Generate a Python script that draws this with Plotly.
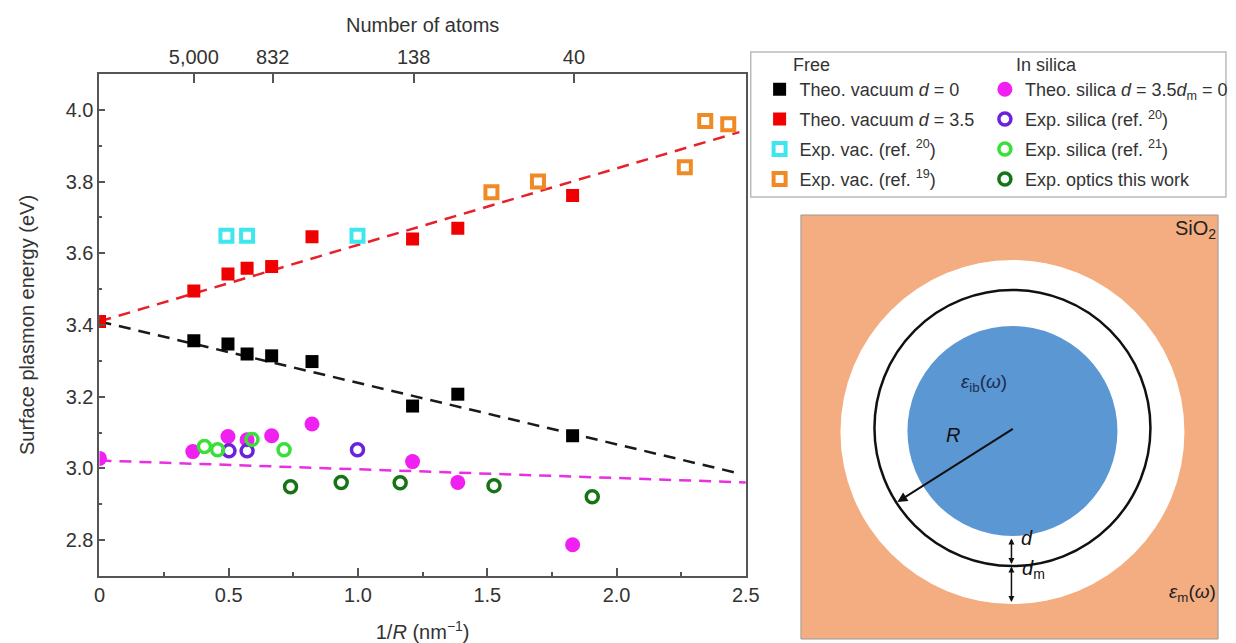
import plotly.graph_objects as go

W, H = 1236, 643

# ---------------- data ----------------
black_x = [0.0, 0.365, 0.497, 0.571, 0.666, 0.822, 1.211, 1.386, 1.830]
black_y = [3.41, 3.356, 3.347, 3.319, 3.314, 3.298, 3.174, 3.207, 3.091]
red_x = [0.0, 0.365, 0.497, 0.571, 0.666, 0.822, 1.211, 1.386, 1.830]
red_y = [3.41, 3.495, 3.542, 3.558, 3.563, 3.646, 3.640, 3.670, 3.761]
cyan_x = [0.491, 0.571, 0.998]
cyan_y = [3.649, 3.649, 3.649]
orange_x = [1.516, 1.696, 2.264, 2.343, 2.432]
orange_y = [3.770, 3.800, 3.840, 3.969, 3.960]
magenta_x = [0.0, 0.361, 0.497, 0.571, 0.666, 0.822, 1.211, 1.386, 1.830]
magenta_y = [3.028, 3.047, 3.089, 3.080, 3.091, 3.124, 3.019, 2.961, 2.787]
purple_x = [0.501, 0.571, 0.998]
purple_y = [3.049, 3.049, 3.052]
lgreen_x = [0.406, 0.457, 0.590, 0.714]
lgreen_y = [3.061, 3.052, 3.081, 3.052]
dgreen_x = [0.739, 0.935, 1.163, 1.526, 1.906]
dgreen_y = [2.949, 2.961, 2.960, 2.952, 2.921]

red_fit_x = [0.0, 2.475]
red_fit_y = [3.41, 3.938]
black_fit_x = [0.0, 2.48]
black_fit_y = [3.41, 2.985]
magenta_fit_x = [0.0, 2.5]
magenta_fit_y = [3.022, 2.961]

atoms_pos = [0.365, 0.670, 1.215, 1.835]
atoms_labels = ["5,000", "832", "138", "40"]

x_ticks = [0, 0.5, 1.0, 1.5, 2.0, 2.5]
x_ticklabels = ["0", "0.5", "1.0", "1.5", "2.0", "2.5"]
y_ticks = [2.8, 3.0, 3.2, 3.4, 3.6, 3.8, 4.0]
y_ticklabels = ["2.8", "3.0", "3.2", "3.4", "3.6", "3.8", "4.0"]

FONT = "Liberation Sans, Arial, Helvetica, sans-serif"
AX = "#555555"
TXT = "#333333"

def px(x):
    return x / W

def py(y):
    return 1 - y / H

fig = go.Figure()

dash = "12px,8px"
fig.add_trace(go.Scatter(x=red_fit_x, y=red_fit_y, mode="lines", showlegend=False,
                         line=dict(color="#e8202a", width=2.5, dash=dash), hoverinfo="skip"))
fig.add_trace(go.Scatter(x=black_fit_x, y=black_fit_y, mode="lines", showlegend=False,
                         line=dict(color="#1a1a1a", width=2.5, dash=dash), hoverinfo="skip"))
fig.add_trace(go.Scatter(x=magenta_fit_x, y=magenta_fit_y, mode="lines", showlegend=False,
                         line=dict(color="#e830e0", width=2.5, dash=dash), hoverinfo="skip"))

def add_pts(x, y, name, symbol, color, size, legend, group, lw=0):
    fig.add_trace(go.Scatter(
        x=x, y=y, mode="markers", name=name, legend=legend, legendgroup=group,
        marker=dict(symbol=symbol, color=color, size=size,
                    line=dict(color=color, width=lw)),
    ))

add_pts(black_x, black_y, "Theo. vacuum <i>d</i> = 0", "square", "#000000", 13, "legend", "g1")
add_pts(red_x, red_y, "Theo. vacuum <i>d</i> = 3.5", "square", "#f00000", 13, "legend", "g2")
add_pts(cyan_x, cyan_y, "Exp. vac. (ref. <sup>20</sup>)", "square-open", "#3ee6f0", 12, "legend", "g3", 4)
add_pts(orange_x, orange_y, "Exp. vac. (ref. <sup>19</sup>)", "square-open", "#f08a24", 12, "legend", "g4", 4)
add_pts(magenta_x, magenta_y, "Theo. silica <i>d</i> = 3.5<i>d</i><sub>m</sub> = 0", "circle", "#f020f0", 15, "legend2", "g5")
add_pts(purple_x, purple_y, "Exp. silica (ref. <sup>20</sup>)", "circle-open", "#6a22dc", 12, "legend2", "g6", 3.5)
add_pts(lgreen_x, lgreen_y, "Exp. silica (ref. <sup>21</sup>)", "circle-open", "#38e038", 12, "legend2", "g7", 3.5)
add_pts(dgreen_x, dgreen_y, "Exp. optics this work", "circle-open", "#157515", 12, "legend2", "g8", 3.5)

# invisible trace to anchor the top axis
fig.add_trace(go.Scatter(x=atoms_pos, y=[3.0] * len(atoms_pos), xaxis="x2", mode="markers",
                         marker=dict(opacity=0), showlegend=False, hoverinfo="skip"))

x0p, x1p, y0p, y1p = 95, 752, 74, 576

axis_common = dict(showline=True, linecolor=AX, linewidth=2, showgrid=False, zeroline=False,
                   ticks="inside", tickcolor=AX, tickwidth=1.5,
                   tickfont=dict(family=FONT, size=20, color=TXT))

fig.update_layout(
    width=W, height=H,
    margin=dict(l=0, r=0, t=0, b=0),
    paper_bgcolor="white", plot_bgcolor="white",
    font=dict(family=FONT, color=TXT),
    xaxis=dict(domain=[px(x0p), px(x1p)], range=[0, 2.5], anchor="y",
               tickvals=x_ticks, ticktext=x_ticklabels, ticklen=8,
               minor=dict(ticks="inside", dtick=0.25, tick0=0, ticklen=4, tickcolor=AX),
               title=dict(text="1/<i>R</i> (nm<sup>\u22121</sup>)", font=dict(family=FONT, size=20, color=TXT), standoff=20),
               **axis_common),
    xaxis2=dict(domain=[px(x0p), px(x1p)], range=[0, 2.5], overlaying="x", side="top", anchor="y",
                tickvals=atoms_pos, ticktext=atoms_labels, ticklen=9,
                title=dict(text="Number of atoms", font=dict(family=FONT, size=20, color=TXT), standoff=8),
                **axis_common),
    yaxis=dict(domain=[py(y1p), py(y0p)], range=[2.7, 4.1], anchor="x",
               tickvals=y_ticks, ticktext=y_ticklabels, ticklen=6, mirror=True,
               minor=dict(ticks="inside", dtick=0.1, tick0=2.8, ticklen=3, tickcolor=AX),
               title=dict(text="Surface plasmon energy (eV)", font=dict(family=FONT, size=20, color=TXT), standoff=26),
               **axis_common),
    legend=dict(x=px(766), y=py(71), xanchor="left", yanchor="top", bgcolor="rgba(0,0,0,0)",
                font=dict(family=FONT, size=18, color=TXT), tracegroupgap=3.5, itemsizing="trace"),
    legend2=dict(x=px(995), y=py(71), xanchor="left", yanchor="top", bgcolor="rgba(0,0,0,0)",
                 font=dict(family=FONT, size=18, color=TXT), tracegroupgap=3.5, itemsizing="trace"),
)

shapes = []
# legend frame
shapes.append(dict(type="rect", xref="paper", yref="paper", x0=px(757), x1=px(1240), y0=py(197), y1=py(52),
                   line=dict(color="#bbbbbb", width=1.5), fillcolor="rgba(0,0,0,0)", layer="below"))
# schematic: silica block with nanoparticle
shapes.append(dict(type="rect", xref="paper", yref="paper", x0=px(808), x1=px(1232), y0=py(639), y1=py(215),
                   line=dict(color="#999999", width=1), fillcolor="#f3ad80"))

def circle(cx, cy, r, fill, line_color, lw):
    return dict(type="circle", xref="paper", yref="paper", xsizemode="pixel", ysizemode="pixel",
                xanchor=px(cx), yanchor=py(cy), x0=-r, x1=r, y0=-r, y1=r,
                fillcolor=fill, line=dict(color=line_color, width=lw))

shapes.append(circle(1023, 432, 172, "white", "white", 0))
shapes.append(circle(1023, 431, 105, "#5b97d3", "#5b97d3", 0))
shapes.append(circle(1023, 428, 138, "rgba(0,0,0,0)", "#111111", 2.5))
fig.update_layout(shapes=shapes)

ann = []
ann.append(dict(xref="paper", yref="paper", x=px(798), y=py(65), text="Free", showarrow=False,
                xanchor="left", yanchor="middle", font=dict(family=FONT, size=18, color=TXT)))
ann.append(dict(xref="paper", yref="paper", x=px(1025), y=py(65), text="In silica", showarrow=False,
                xanchor="left", yanchor="middle", font=dict(family=FONT, size=18, color=TXT)))
# R arrow
ann.append(dict(xref="paper", yref="paper", x=px(906), y=py(502), ax=117, ay=-74, text="",
                showarrow=True, arrowhead=2, arrowsize=1, arrowwidth=2, arrowcolor="#111111"))
ann.append(dict(xref="paper", yref="paper", x=px(972), y=py(448), text="<i>R</i>", showarrow=False,
                font=dict(family=FONT, size=20, color="#111111")))
# d arrows
ann.append(dict(xref="paper", yref="paper", x=px(1022), y=py(564), ax=0, ay=-27, text="",
                showarrow=True, arrowhead=2, arrowside="end+start", arrowsize=0.8, arrowwidth=1.5, arrowcolor="#111111"))
ann.append(dict(xref="paper", yref="paper", x=px(1022), y=py(602), ax=0, ay=-37, text="",
                showarrow=True, arrowhead=2, arrowside="end+start", arrowsize=0.8, arrowwidth=1.5, arrowcolor="#111111"))
ann.append(dict(xref="paper", yref="paper", x=px(1030), y=py(551), text="<i>d</i>", showarrow=False,
                xanchor="left", font=dict(family=FONT, size=20, color="#111111")))
ann.append(dict(xref="paper", yref="paper", x=px(1031), y=py(584), text="<i>d</i><sub>m</sub>", showarrow=False,
                xanchor="left", font=dict(family=FONT, size=20, color="#111111")))
ann.append(dict(xref="paper", yref="paper", x=px(1020), y=py(383), text="<i>\u03b5</i><sub>ib</sub>(<i>\u03c9</i>)",
                showarrow=False, font=dict(family=FONT, size=19, color="#1c2c50")))
ann.append(dict(xref="paper", yref="paper", x=px(1232), y=py(229), text="SiO<sub>2</sub>", showarrow=False,
                xanchor="right", font=dict(family=FONT, size=20, color="#222222")))
ann.append(dict(xref="paper", yref="paper", x=px(1232), y=py(607), text="<i>\u03b5</i><sub>m</sub>(<i>\u03c9</i>)",
                showarrow=False, xanchor="right", font=dict(family=FONT, size=19, color="#222222")))
fig.update_layout(annotations=ann)

fig.write_html("out.html")
